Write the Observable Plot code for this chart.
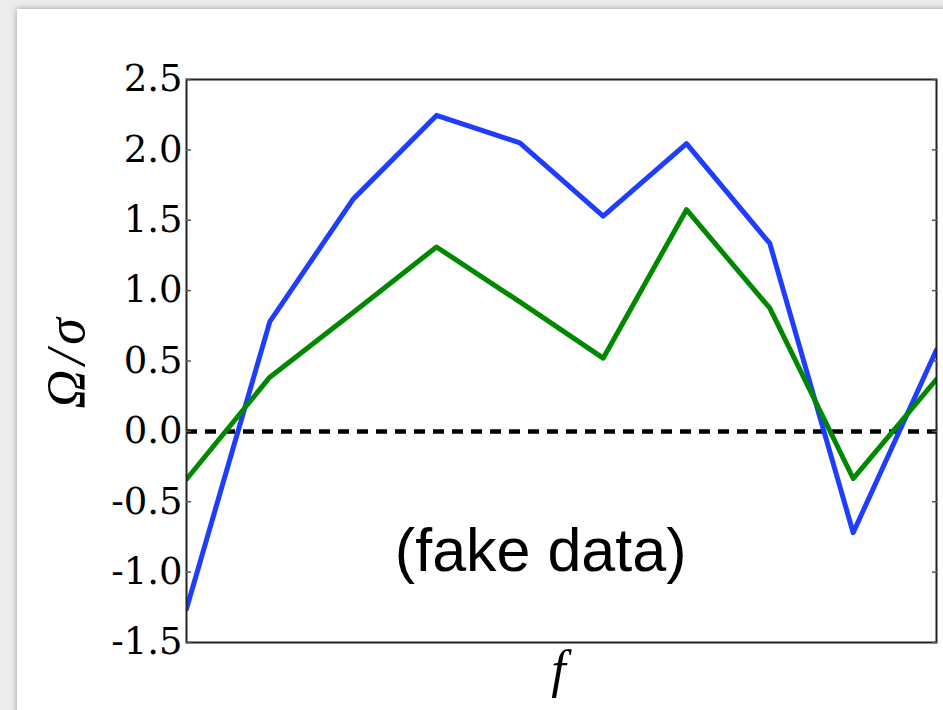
<!DOCTYPE html>
<html>
<head>
<meta charset="utf-8">
<script src="https://cdn.jsdelivr.net/npm/d3@7"></script>
<script src="https://cdn.jsdelivr.net/npm/@observablehq/plot@0.6"></script>
<style>
  html, body { margin: 0; padding: 0; width: 943px; height: 710px; overflow: hidden; background: #ececec; }
  #card { position: absolute; left: 17px; top: 9px; width: 960px; height: 740px; background: #fff; box-shadow: 0 0 6px rgba(0,0,0,0.35); }
  #chart { position: absolute; left: 0; top: 0; }
</style>
</head>
<body>
<div id="card"></div>
<div id="chart"></div>
<script>
const fIndex = [0, 1, 2, 3, 4, 5, 6, 7, 8, 9];
const blueSeries = [-1.26, 0.78, 1.65, 2.245, 2.05, 1.53, 2.045, 1.335, -0.72, 0.58];
const greenSeries = [-0.34, 0.385, 0.845, 1.31, 0.92, 0.52, 1.575, 0.875, -0.335, 0.37];
const yTicks = [-1.5, -1.0, -0.5, 0.0, 0.5, 1.0, 1.5, 2.0, 2.5];
const zeroLine = [0];
const yLabel = "Ω/σ";
const xLabel = "f";
const annotation = [{text: "(fake data)", x: 4.25, y: -0.855}];

const chart = Plot.plot({
  width: 943,
  height: 710,
  marginLeft: 186,
  marginTop: 79,
  marginRight: 7,
  marginBottom: 68,
  style: {background: "transparent", overflow: "visible"},
  x: {domain: [0, 9], axis: null},
  y: {domain: [-1.5, 2.5], axis: null},
  marks: [
    Plot.ruleY(zeroLine, {stroke: "black", strokeWidth: 4.5, strokeDasharray: "11,8"}),
    Plot.line(fIndex, {x: i => i, y: i => blueSeries[i], stroke: "#1f3dff", strokeWidth: 5, clip: true}),
    Plot.line(fIndex, {x: i => i, y: i => greenSeries[i], stroke: "#008800", strokeWidth: 5, clip: true}),
    Plot.frame({stroke: "#222", strokeWidth: 2}),
    Plot.axisY(yTicks, {anchor: "left", tickSize: 0, tickPadding: 4, tickFormat: d => d.toFixed(1),
      fontSize: 37, fontFamily: "DejaVu Serif", fill: "black", label: null}),
    Plot.axisY(yTicks, {anchor: "left", tickSize: 5, dx: 5, fill: "none", stroke: "#555", strokeWidth: 1.5, label: null}),
    Plot.axisY(yTicks, {anchor: "right", tickSize: 5, dx: -5, fill: "none", stroke: "#555", strokeWidth: 1.5, label: null}),
    Plot.text([yLabel], {frameAnchor: "left", dx: -120, rotate: -90, textAnchor: "middle", lineAnchor: "middle",
      fontSize: 54, fontStyle: "italic", fontFamily: "Liberation Serif", fill: "black"}),
    Plot.text([xLabel], {frameAnchor: "bottom", textAnchor: "middle", lineAnchor: "middle", dx: -3, dy: 28, fontSize: 52,
      fontStyle: "italic", fontFamily: "Liberation Serif", fill: "black"}),
    Plot.text(annotation, {x: "x", y: "y", text: "text", fontSize: 61, fontFamily: "Liberation Sans", fill: "black"})
  ]
});
d3.select(chart).selectAll("text")
  .filter(function() { return this.textContent === yLabel; })
  .style("letter-spacing", "5px");
document.getElementById("chart").appendChild(chart);
</script>
</body>
</html>
